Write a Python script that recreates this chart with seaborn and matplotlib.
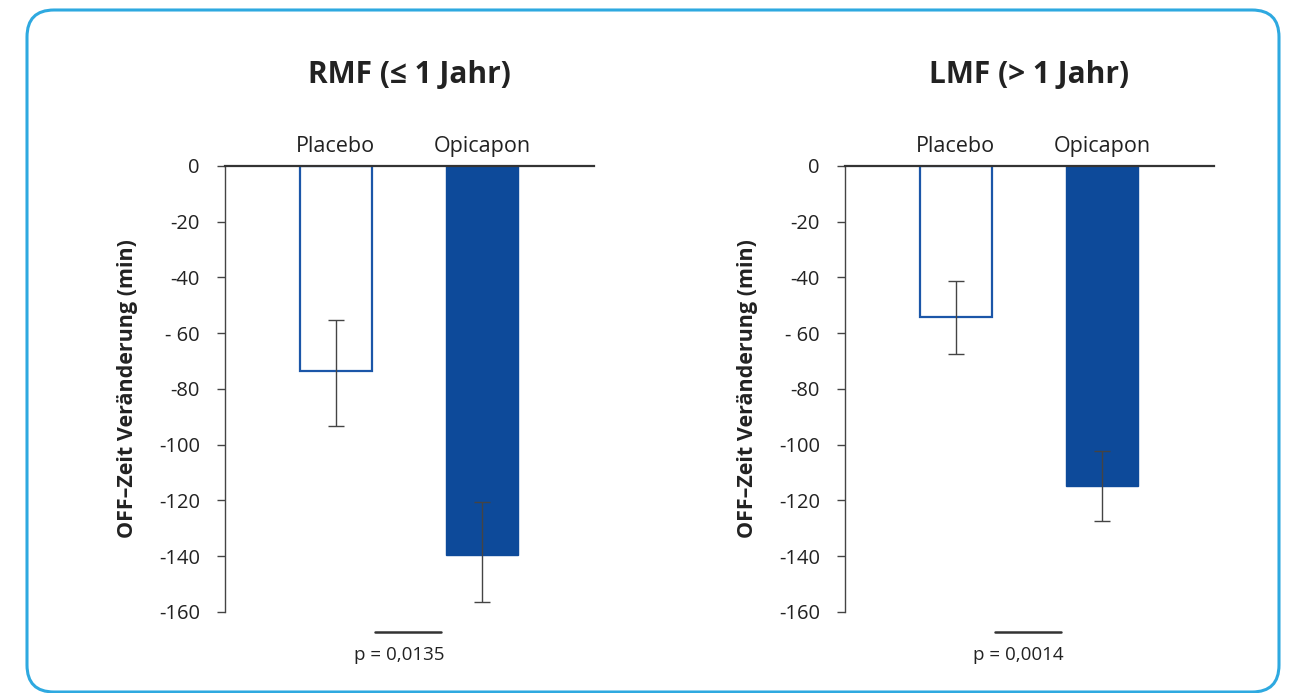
import matplotlib
matplotlib.use("Agg")
import matplotlib.pyplot as plt
import matplotlib.patches as mpatches
import matplotlib.transforms as mtrans
import seaborn as sns

# data
groups = ["Placebo", "Opicapon"]
titles = ["RMF (≤ 1 Jahr)", "LMF (> 1 Jahr)"]
rmf_values = [-73.5, -139.5]
rmf_err_top = [-55.2, -120.5]
rmf_err_bottom = [-93.3, -156.4]
lmf_values = [-54.2, -114.8]
lmf_err_top = [-41.3, -102.2]
lmf_err_bottom = [-67.4, -127.4]
p_values = ["p = 0,0135", "p = 0,0014"]
yticks = [0, -20, -40, -60, -80, -100, -120, -140, -160]
ytick_labels = ["0", "-20", "-40", "- 60", "-80", "-100", "-120", "-140", "-160"]
ylabel = "OFF–Zeit Veränderung (min)"

sns.set_style("white")
plt.rcParams["font.family"] = ["Open Sans", "DejaVu Sans"]

blue = "#0d4a9a"
edge_blue = "#1b56a8"
text_col = "#222222"

fig = plt.figure(figsize=(12.9, 6.93), dpi=100)

# rounded frame around the whole chart
frame = mpatches.FancyBboxPatch((0.27, 0.01), 12.52, 6.82,
                                boxstyle="round,pad=0,rounding_size=0.27",
                                transform=fig.dpi_scale_trans, fill=False,
                                edgecolor="#2ea9e0", linewidth=2.2)
fig.patches.append(frame)

panels = [
    (0.1744, titles[0], rmf_values, rmf_err_top, rmf_err_bottom, p_values[0]),
    (0.6550, titles[1], lmf_values, lmf_err_top, lmf_err_bottom, p_values[1]),
]

for left, title, vals, etop, ebot, ptxt in panels:
    ax = fig.add_axes([left, 0.1169, 0.2860, 0.6436])
    sns.barplot(x=groups, y=vals, ax=ax, width=0.49, color=blue)
    bars = ax.patches
    bars[0].set_facecolor("white")
    bars[0].set_edgecolor(edge_blue)
    bars[0].set_linewidth(1.6)
    bars[1].set_facecolor(blue)
    bars[1].set_edgecolor(blue)

    xs = list(range(len(groups)))
    lower = [v - b for v, b in zip(vals, ebot)]
    upper = [t - v for v, t in zip(vals, etop)]
    ax.errorbar(xs, vals, yerr=[lower, upper], fmt="none", ecolor="#444444",
                elinewidth=1.0, capsize=5.5, capthick=1.0)

    ax.set_xlim(-0.755, 1.76)
    ax.set_ylim(-160, 0)
    ax.set_yticks(yticks)
    ax.set_yticklabels(ytick_labels, fontsize=14.5, color=text_col)
    ax.tick_params(axis="y", left=True, length=6, width=1, color="#444444", pad=12)
    ax.tick_params(axis="x", bottom=False, top=False, labeltop=True,
                   labelbottom=False, labelsize=15.5, labelcolor=text_col, pad=3)

    for side in ["right", "bottom"]:
        ax.spines[side].set_visible(False)
    ax.spines["left"].set_color("#444444")
    ax.spines["left"].set_linewidth(1.0)
    ax.spines["top"].set_color("#333333")
    ax.spines["top"].set_linewidth(1.6)

    ax.set_xlabel("")
    ax.set_ylabel(ylabel, fontsize=15.5, fontweight="bold", color=text_col, labelpad=15)
    ax.set_title(title, fontsize=21.5, fontweight="bold", color=text_col, pad=60)

    # significance bar and p-value beneath the plot
    trans = mtrans.blended_transform_factory(ax.transData, ax.transAxes)
    ax.plot([0.27, 0.72], [-0.045, -0.045], transform=trans, color="#333333",
            linewidth=1.8, clip_on=False)
    ax.text(0.43, -0.097, ptxt, transform=trans, ha="center", va="center",
            fontsize=13.5, color=text_col)

fig.savefig("out.png", dpi=100)
